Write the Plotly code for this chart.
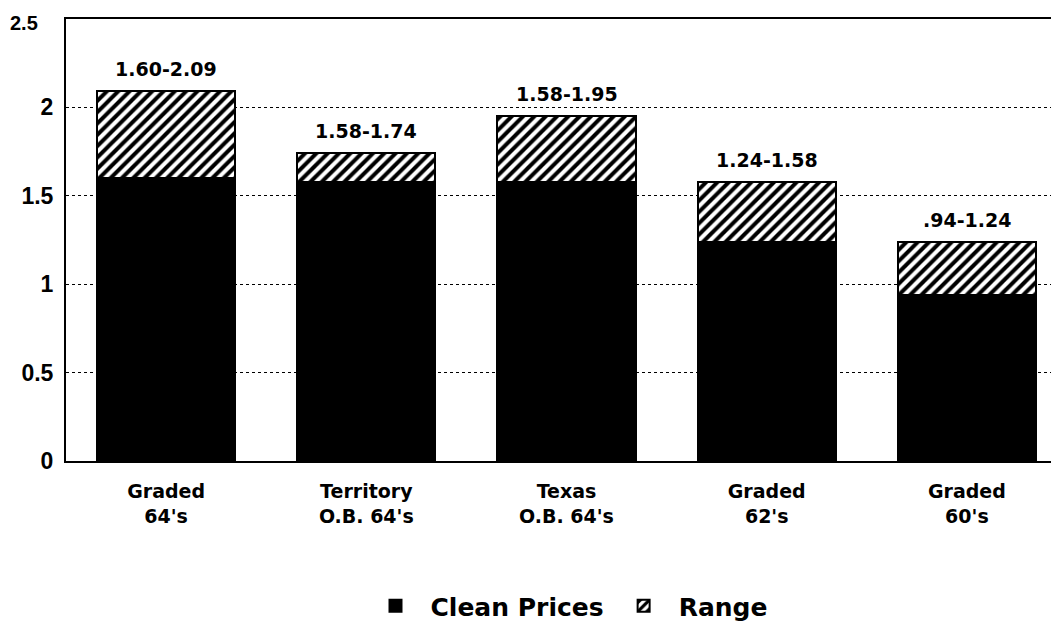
import plotly.graph_objects as go

categories = ["Graded<br>64's", "Territory<br>O.B. 64's", "Texas<br>O.B. 64's", "Graded<br>62's", "Graded<br>60's"]
clean_low = [1.60, 1.58, 1.58, 1.24, 0.94]
range_high = [2.09, 1.74, 1.95, 1.58, 1.24]
range_labels = ["1.60-2.09", "1.58-1.74", "1.58-1.95", "1.24-1.58", ".94-1.24"]
y_ticks = [0, 0.5, 1, 1.5, 2]
y_tick_text = ["0", "0.5", "1", "1.5", "2"]
y_top = 2.5
y_top_text = "2.5"

range_span = [h - l for h, l in zip(range_high, clean_low)]

fig = go.Figure()
fig.add_trace(go.Bar(
    x=categories, y=clean_low, name="Clean Prices",
    marker=dict(color="black", line=dict(color="black", width=2)),
    width=0.69,
))
fig.add_trace(go.Bar(
    x=categories, y=range_span, name="Range",
    marker=dict(color="white", line=dict(color="black", width=2),
                pattern=dict(shape="/", fgcolor="black", bgcolor="white", fgopacity=1,
                             size=8, solidity=0.5)),
    width=0.69,
))

for c, h, t in zip(categories, range_high, range_labels):
    fig.add_annotation(x=c, y=h, text=t, showarrow=False, yshift=22,
                       font=dict(family="DejaVu Sans", size=19, color="black", weight="bold"))

# top tick label (drawn as annotation so it is not clipped at the page edge)
fig.add_annotation(x=0, xref="paper", y=y_top, yref="y", text=y_top_text, showarrow=False,
                   xanchor="right", yanchor="middle", xshift=-27, yshift=-4, borderpad=0,
                   font=dict(family="Liberation Sans", size=20, color="black", weight="bold"))

fig.update_layout(
    width=1059, height=621,
    barmode="stack",
    plot_bgcolor="white", paper_bgcolor="white",
    margin=dict(l=58, r=0, t=11, b=166),
    font=dict(family="DejaVu Sans", color="black", weight="bold"),
    legend=dict(orientation="h", x=0.5, xanchor="center", y=-0.329, yanchor="middle",
                font=dict(family="DejaVu Sans", size=25, weight="bold"),
                itemwidth=60, traceorder="normal"),
    showlegend=True,
)
fig.update_xaxes(
    showline=True, linecolor="black", linewidth=2, mirror=True,
    ticks="", tickfont=dict(family="DejaVu Sans", size=19, weight="bold"),
    ticklabelstandoff=12,
    range=[-0.5, 4.5], showgrid=False, automargin=False,
)
fig.update_yaxes(
    range=[0, y_top], tickvals=y_ticks, ticktext=y_tick_text,
    showline=True, linecolor="black", linewidth=2,
    showgrid=True, gridcolor="black", gridwidth=1, griddash="dot",
    zeroline=False, ticks="", ticklabelstandoff=6,
    tickfont=dict(family="Liberation Sans", size=23, weight="bold"),
    automargin=False,
)

fig.write_html("out.html")
